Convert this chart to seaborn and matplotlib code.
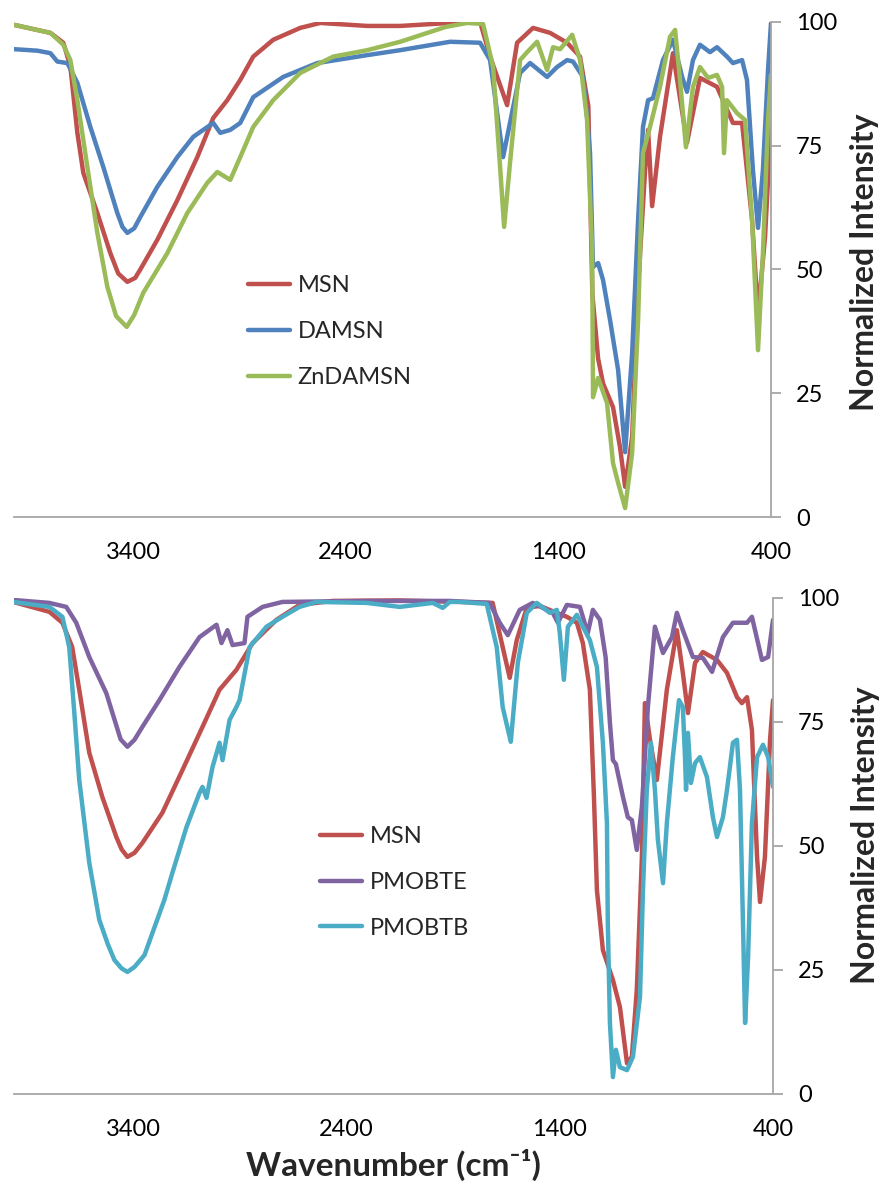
import matplotlib
matplotlib.use("Agg")
import matplotlib.pyplot as plt
import seaborn as sns
import pandas as pd

# ---- top panel: MSN / DAMSN / ZnDAMSN ----
top_msn_wn = [3958, 3789, 3728, 3695, 3662, 3634, 3568, 3507, 3470, 3427, 3390, 3366, 3286, 3192,
              3098, 3023, 2957, 2896, 2835, 2741, 2614, 2520, 2299, 2144, 1909, 1768, 1721, 1641,
              1594, 1519, 1439, 1359, 1298, 1259, 1240, 1213, 1190, 1143, 1110, 1086, 1053, 1025,
              992, 978, 959, 922, 861, 795, 734, 654, 579, 536, 489, 461, 428, 400]
top_msn_int = [99.4, 97.8, 95.8, 91.0, 77.6, 69.5, 61.4, 53.3, 49.2, 47.5, 48.3, 50.0, 56.0, 64.0,
               72.7, 80.6, 84.2, 88.3, 93.0, 96.4, 98.8, 99.8, 99.2, 99.2, 99.8, 100, 93.0, 83.2,
               95.8, 98.8, 97.8, 95.8, 93.0, 83.0, 45.0, 32.0, 27.0, 22.2, 14.1, 6.1, 16.2, 46.5,
               70.1, 78.2, 62.8, 76.8, 93.7, 75.6, 88.7, 86.9, 79.6, 79.6, 60.0, 41.0, 56.6, 79.6]

top_damsn_wn = [3958, 3850, 3789, 3756, 3709, 3662, 3601, 3540, 3474, 3450, 3427, 3395, 3366, 3286,
                3192, 3117, 3023, 2990, 2943, 2896, 2835, 2694, 2534, 2299, 2144, 1909, 1768, 1721,
                1660, 1580, 1533, 1453, 1406, 1359, 1331, 1284, 1265, 1251, 1237, 1213, 1190, 1157,
                1119, 1086, 1053, 1025, 1002, 978, 955, 908, 861, 818, 795, 767, 734, 687, 654, 607,
                579, 536, 513, 485, 461, 438, 414, 400]
top_damsn_int = [94.5, 94.2, 93.7, 92.0, 91.7, 87.7, 78.8, 70.7, 61.4, 58.6, 57.4, 58.3, 60.6, 66.7,
                 72.7, 76.8, 79.6, 77.6, 78.2, 79.6, 84.8, 88.9, 91.7, 93.3, 94.3, 96.0, 95.8, 92.3,
                 72.7, 89.7, 91.7, 88.9, 90.9, 92.3, 92.0, 88.9, 80.8, 73.5, 50.5, 51.3, 47.9, 39.8,
                 29.7, 13.1, 33.1, 60.0, 78.8, 84.2, 84.6, 92.3, 96.4, 88.9, 85.9, 92.3, 95.4, 93.9,
                 94.9, 93.0, 91.7, 92.3, 88.3, 70.1, 58.4, 70.1, 90.3, 99.8]

top_zn_wn = [3958, 3789, 3728, 3695, 3662, 3615, 3568, 3521, 3480, 3430, 3395, 3352, 3239, 3145,
             3051, 3004, 2943, 2896, 2835, 2741, 2614, 2459, 2299, 2144, 1930, 1829, 1754, 1707,
             1674, 1655, 1627, 1580, 1547, 1500, 1453, 1425, 1392, 1335, 1298, 1265, 1241, 1237,
             1213, 1171, 1143, 1119, 1086, 1053, 1025, 1002, 969, 922, 875, 851, 828, 800, 767, 734,
             696, 654, 630, 621, 607, 560, 522, 489, 461, 438, 414, 400]
top_zn_int = [99.4, 97.8, 95.4, 92.3, 84.2, 70.7, 57.4, 46.5, 40.6, 38.4, 40.8, 45.3, 53.3, 61.4,
              67.5, 69.7, 68.1, 72.7, 78.8, 84.2, 89.7, 93.0, 94.3, 96.0, 99.0, 99.8, 99.6, 90.9,
              70.7, 58.6, 71.7, 92.3, 93.9, 96.0, 90.3, 94.9, 94.5, 97.4, 92.3, 80.2, 53.3, 24.2,
              28.1, 23.0, 10.9, 6.9, 1.8, 12.9, 39.8, 73.5, 78.8, 86.9, 97.0, 98.4, 88.3, 74.7, 86.9,
              90.9, 88.7, 89.3, 86.9, 73.5, 84.2, 81.6, 80.2, 60.0, 33.7, 53.3, 80.2, 89.3]

# ---- bottom panel: MSN / PMOBTE / PMOBTB ----
bot_msn_wn = [3964, 3794, 3733, 3687, 3654, 3607, 3546, 3480, 3455, 3428, 3395, 3358, 3264, 3170,
              3076, 2996, 2917, 2841, 2729, 2621, 2466, 2151, 1870, 1715, 1668, 1635, 1602, 1555,
              1494, 1414, 1367, 1320, 1292, 1259, 1240, 1226, 1198, 1151, 1118, 1085, 1062, 1039,
              1015, 1001, 977, 945, 898, 851, 823, 799, 766, 729, 663, 616, 569, 546, 522, 499, 475,
              461, 438, 414, 400]
bot_msn_int = [99.2, 97.2, 95.0, 90.1, 81.5, 68.8, 59.9, 51.8, 49.3, 47.8, 48.6, 50.6, 56.7, 65.3,
               74.0, 81.5, 85.5, 90.9, 95.6, 98.6, 99.4, 99.5, 99.2, 99.0, 90.1, 83.9, 91.5, 98.0,
               98.4, 97.0, 96.2, 95.0, 90.9, 81.5, 60.0, 41.1, 29.0, 23.0, 17.5, 6.2, 7.5, 21.0,
               47.8, 78.8, 71.4, 63.3, 81.5, 93.5, 84.9, 76.8, 86.9, 89.1, 87.5, 84.9, 80.0, 78.8,
               80.0, 73.4, 47.8, 38.7, 47.8, 71.4, 79.4]

bot_pmobte_wn = [3964, 3794, 3715, 3668, 3607, 3527, 3460, 3428, 3395, 3358, 3278, 3184, 3090, 3010,
                 2987, 2959, 2935, 2879, 2865, 2794, 2701, 2306, 1916, 1729, 1682, 1644, 1588, 1527,
                 1433, 1409, 1367, 1306, 1269, 1245, 1212, 1185, 1165, 1151, 1137, 1104, 1081, 1062,
                 1039, 1015, 987, 954, 916, 874, 851, 823, 776, 729, 686, 635, 588, 522, 499, 452,
                 423, 400]
bot_pmobte_int = [99.6, 99.0, 98.2, 95.0, 88.1, 80.8, 71.5, 70.0, 71.4, 74.0, 79.4, 86.1, 92.1, 94.6,
                  90.9, 93.5, 90.5, 90.9, 96.2, 98.2, 99.2, 99.4, 99.4, 99.0, 95.0, 92.5, 97.6, 99.0,
                  97.0, 95.0, 98.6, 98.2, 92.9, 97.6, 95.6, 88.0, 74.8, 67.3, 66.5, 59.9, 55.8, 55.2,
                  49.2, 57.9, 78.0, 94.2, 88.9, 92.1, 97.0, 93.5, 88.1, 87.9, 85.1, 92.1, 95.0, 95.0,
                  96.2, 87.5, 88.1, 95.6]

bot_pmobtb_wn = [3964, 3794, 3733, 3701, 3677, 3654, 3607, 3560, 3520, 3489, 3455, 3428, 3395, 3348,
                 3255, 3217, 3151, 3090, 3076, 3057, 3029, 2996, 2982, 2949, 2917, 2902, 2855, 2776,
                 2701, 2621, 2541, 2306, 2151, 1996, 1949, 1916, 1870, 1743, 1696, 1668, 1630, 1597,
                 1555, 1508, 1447, 1414, 1400, 1381, 1362, 1320, 1292, 1259, 1226, 1198, 1179, 1175,
                 1165, 1151, 1137, 1118, 1085, 1057, 1024, 1010, 992, 973, 954, 940, 916, 898, 870,
                 841, 823, 813, 808, 799, 785, 766, 743, 710, 682, 663, 635, 616, 588, 569, 555, 541,
                 531, 517, 499, 475, 447, 423, 400]
bot_pmobtb_int = [99.2, 98.2, 96.2, 90.1, 76.8, 63.3, 46.6, 35.1, 30.2, 27.0, 25.3, 24.6, 25.6, 28.0,
                  39.1, 44.6, 53.8, 60.7, 61.9, 59.7, 65.9, 70.8, 67.3, 75.4, 78.0, 79.4, 90.1, 94.2,
                  96.2, 98.2, 99.2, 99.0, 98.2, 99.0, 98.0, 99.2, 99.2, 98.8, 90.1, 78.0, 71.0, 86.9,
                  97.0, 99.0, 97.0, 97.6, 92.9, 83.5, 94.2, 96.6, 94.2, 91.5, 86.1, 70.8, 54.6, 34.5,
                  14.3, 3.4, 8.9, 5.4, 4.8, 7.5, 19.6, 41.1, 61.3, 70.8, 61.3, 51.2, 42.5, 54.6, 67.9,
                  79.4, 78.0, 67.9, 61.3, 72.8, 62.7, 66.7, 67.9, 63.9, 55.8, 51.8, 55.8, 61.3, 70.8,
                  71.4, 61.3, 34.5, 14.3, 27.6, 54.6, 67.9, 70.4, 67.9, 61.9]

ticks_x = [3400, 2400, 1400, 400]
ticks_y = [0, 25, 50, 75, 100]

top_series = [("MSN", top_msn_wn, top_msn_int, "#C0504D"),
              ("DAMSN", top_damsn_wn, top_damsn_int, "#4F81BD"),
              ("ZnDAMSN", top_zn_wn, top_zn_int, "#9BBB59")]
bot_series = [("MSN", bot_msn_wn, bot_msn_int, "#C0504D"),
              ("PMOBTE", bot_pmobte_wn, bot_pmobte_int, "#8064A2"),
              ("PMOBTB", bot_pmobtb_wn, bot_pmobtb_int, "#4BACC6")]

sns.set_theme(style="white")
plt.rcParams['font.family'] = ['Lato', 'DejaVu Sans']

fig = plt.figure(figsize=(8.86, 11.94), dpi=100)
ax1 = fig.add_axes([0.0158, 0.567, 0.8544, 0.4146])
ax2 = fig.add_axes([0.0158, 0.0838, 0.8567, 0.4154])


def draw_panel(ax, series, leg_xy):
    for name, wn, val, col in series:
        df = pd.DataFrame({"wn": wn, "val": val})
        sns.lineplot(data=df, x="wn", y="val", color=col, label=name, ax=ax,
                     estimator=None, sort=False, linewidth=3.2,
                     solid_joinstyle="round", solid_capstyle="round")
    ax.set_xlim(3960, 400)
    ax.set_ylim(0, 100)
    ax.set_xticks(ticks_x)
    ax.set_yticks(ticks_y)
    ax.yaxis.tick_right()
    for s in ["left", "top"]:
        ax.spines[s].set_visible(False)
    for s in ["bottom", "right"]:
        ax.spines[s].set_color("#a6a6a6")
        ax.spines[s].set_linewidth(1.3)
    ax.tick_params(axis="both", colors="#a6a6a6", labelcolor="black",
                   length=7, width=1.3, direction="out", labelsize=17, pad=11)
    ax.set_xlabel("")
    ax.set_ylabel("Normalized Intensity", fontsize=23, fontweight="bold")
    ax.yaxis.set_label_position("right")
    ax.legend(loc="upper left", bbox_to_anchor=leg_xy, frameon=False, fontsize=17,
              handlelength=1.8, handletextpad=0.3, labelspacing=1.05,
              borderpad=0, borderaxespad=0)


draw_panel(ax1, top_series, (0.309, 0.488))
draw_panel(ax2, bot_series, (0.403, 0.540))
ax1.yaxis.set_label_coords(1.105, 0.515)
ax2.yaxis.set_label_coords(1.103, 0.522)

ax2.set_xlabel("Wavenumber (cm⁻¹)", fontsize=24, fontweight="bold")
ax2.xaxis.set_label_coords(0.5, -0.11)

fig.savefig("out.png", dpi=100)
